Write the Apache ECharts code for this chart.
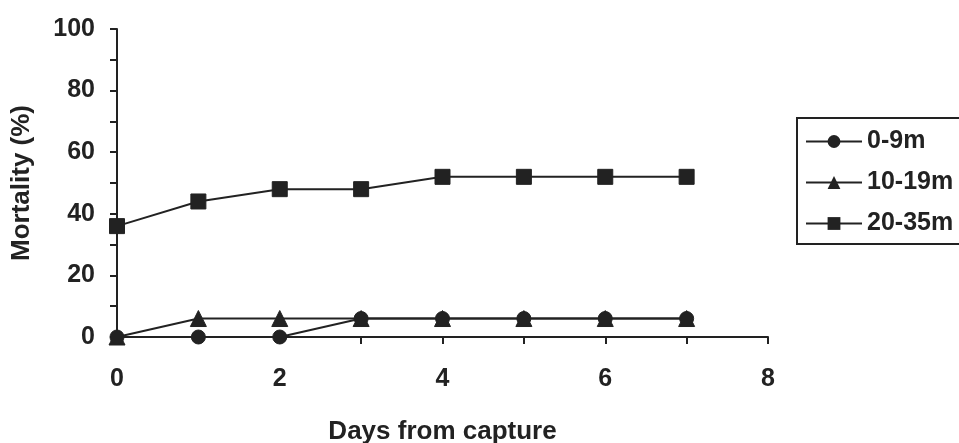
<!DOCTYPE html>
<html><head><meta charset="utf-8">
<script src="https://cdn.jsdelivr.net/npm/echarts@6/dist/echarts.min.js"></script>
<style>html,body{margin:0;padding:0;background:#fff}#c{width:959px;height:443px}</style>
</head><body><div id="c"></div>
<script>
const days = [0,1,2,3,4,5,6,7];
const s0_9 = [0,0,0,6,6,6,6,6];
const s10_19 = [0,6,6,6,6,6,6,6];
const s20_35 = [36,44,48,48,52,52,52,52];
const names = ['0-9m','10-19m','20-35m'];
const symbols = ['circle','triangle','rect'];
const vals = [s0_9, s10_19, s20_35];
const ink = '#222';
const font = 'Liberation Sans, Arial, sans-serif';
const chart = echarts.init(document.getElementById('c'));
chart.setOption({
  animation:false,
  backgroundColor:'#fff',
  grid:{left:117,right:191,top:29,bottom:106,containLabel:false,outerBoundsMode:'none'},
  xAxis:{type:'value',min:0,max:8,interval:1,
    name:'Days from capture',nameLocation:'middle',nameGap:82,
    nameTextStyle:{fontFamily:font,fontSize:26,fontWeight:'bold',color:ink},
    axisLine:{show:true,lineStyle:{color:ink,width:2}},
    axisTick:{show:true,inside:false,length:7,lineStyle:{color:ink,width:2}},
    axisLabel:{margin:30,fontFamily:font,fontSize:25,fontWeight:'bold',color:ink,
      formatter:v=> (v%2===0?String(v):'')},
    splitLine:{show:false}},
  yAxis:{type:'value',min:0,max:100,interval:10,
    name:'Mortality (%)',nameLocation:'middle',nameGap:82,nameRotate:90,
    nameTextStyle:{fontFamily:font,fontSize:26,fontWeight:'bold',color:ink},
    axisLine:{show:true,lineStyle:{color:ink,width:2}},
    axisTick:{show:true,inside:false,length:7,lineStyle:{color:ink,width:2}},
    axisLabel:{margin:22,fontFamily:font,fontSize:25,fontWeight:'bold',color:ink,
      formatter:v=> (v%20===0?String(v):'')},
    splitLine:{show:false}},
  legend:{orient:'vertical',left:797,top:118,
    padding:[11,14,8,8],itemGap:16,itemWidth:56,itemHeight:16,
    borderColor:ink,borderWidth:2,borderRadius:0,
    textStyle:{fontFamily:font,fontSize:25,fontWeight:'bold',color:ink},
    data:names},
  series: names.map((n,i)=>({
    name:n,type:'line',
    data: days.map((d,j)=>[d, vals[i][j]]),
    symbol:symbols[i],
    symbolSize: i===2?15:(i===1?16:14),
    showAllSymbol:true,
    lineStyle:{color:ink,width:2},
    itemStyle:{color:ink,borderColor:ink},
    z: 3-i
  }))
});
</script></body></html>
